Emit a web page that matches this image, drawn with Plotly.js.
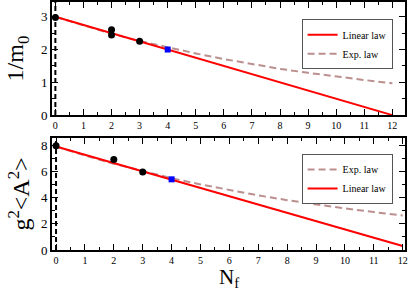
<!DOCTYPE html>
<html><head><meta charset="utf-8">
<script src="https://cdn.plot.ly/plotly-3.0.1.min.js"></script>
<style>html,body{margin:0;padding:0;background:#fff}#c{width:409px;height:292px}</style>
</head><body><div id="c"></div>
<script>
// Top panel: 1/m0 vs Nf
const nfTopPts = [0, 2, 2, 3];
const invM0Pts = [2.98, 2.6, 2.44, 2.25];
const nfTopSq = [4];
const invM0Sq = [2.0];
const linTopX = [0, 12];
const linTopY = [3.0, 0.0];
const expX = [0,1,2,3,4,5,6,7,8,9,10,11,12];
const expTopY = [3.00,2.73,2.48,2.26,2.06,1.88,1.71,1.55,1.41,1.29,1.17,1.07,0.97];
// Bottom panel: g^2<A^2> vs Nf
const nfBotPts = [0, 2, 3];
const a2Pts = [7.95, 6.9, 5.95];
const nfBotSq = [4];
const a2Sq = [5.39];
const linBotX = [0, 12];
const linBotY = [7.9, 0.3];
const expBotY = [7.90,7.21,6.58,6.01,5.48,5.00,4.57,4.17,3.80,3.47,3.17,2.89,2.64];
const xTicks = [0,1,2,3,4,5,6,7,8,9,10,11,12];

const serif = 'Liberation Serif';
const red = '#ff0000', rb = '#bc8f8f';
const traces = [
  {x: expX, y: expTopY, mode:'lines', name:'Exp. law', line:{color:rb, width:2, dash:'7px,4px'}, xaxis:'x', yaxis:'y', legend:'legend', legendrank:2},
  {x: linTopX, y: linTopY, mode:'lines', name:'Linear law', line:{color:red, width:2}, xaxis:'x', yaxis:'y', legend:'legend', legendrank:1},
  {x: nfTopPts, y: invM0Pts, mode:'markers', marker:{color:'#000', size:7}, showlegend:false, xaxis:'x', yaxis:'y'},
  {x: nfTopSq, y: invM0Sq, mode:'markers', marker:{color:'#0000ff', size:6, symbol:'square'}, showlegend:false, xaxis:'x', yaxis:'y'},
  {x: expX, y: expBotY, mode:'lines', name:'Exp. law', line:{color:rb, width:2, dash:'7px,4px'}, xaxis:'x2', yaxis:'y2', legend:'legend2', legendrank:1},
  {x: linBotX, y: linBotY, mode:'lines', name:'Linear law', line:{color:red, width:2}, xaxis:'x2', yaxis:'y2', legend:'legend2', legendrank:2},
  {x: nfBotPts, y: a2Pts, mode:'markers', marker:{color:'#000', size:7}, showlegend:false, xaxis:'x2', yaxis:'y2'},
  {x: nfBotSq, y: a2Sq, mode:'markers', marker:{color:'#0000ff', size:6, symbol:'square'}, showlegend:false, xaxis:'x2', yaxis:'y2'}
];
const ax = {
  showline:true, linewidth:2, linecolor:'#000', mirror:'ticks', ticks:'inside', ticklen:6, tickwidth:1, tickcolor:'#000',
  showgrid:false, zeroline:false
};
const layout = {
  width:409, height:292, margin:{l:52, r:4, t:2, b:42},
  paper_bgcolor:'#fff', plot_bgcolor:'#fff',
  font:{family:serif, color:'#000'},
  showlegend:true,
  xaxis: Object.assign({}, ax, {domain:[0,1], anchor:'y', range:[-0.12,12.45], tickvals:xTicks, ticktext:xTicks.map(String), tickfont:{size:10, family:serif}, ticklabelstandoff:0,
    minor:{ticks:'inside', dtick:0.5, ticklen:3, tickcolor:'#000'}}),
  yaxis: Object.assign({}, ax, {domain:[0.544,1], anchor:'x', range:[0,3.45], dtick:1, tickfont:{size:13, family:serif},
    minor:{ticks:'inside', dtick:0.5, ticklen:3, tickcolor:'#000'},
    title:{text:'1/m<sub>0</sub>', font:{size:24, family:serif}, standoff:10}}),
  xaxis2: Object.assign({}, ax, {domain:[0,1], anchor:'y2', range:[-0.14,12.08], tickvals:xTicks, ticktext:xTicks.map(String), tickfont:{size:10, family:serif}, ticklabelstandoff:0,
    minor:{ticks:'inside', dtick:0.5, ticklen:3, tickcolor:'#000'}}),
  yaxis2: Object.assign({}, ax, {domain:[0,0.452], anchor:'x2', range:[0,8.55], dtick:2, tickfont:{size:13, family:serif},
    minor:{ticks:'inside', dtick:1, ticklen:3, tickcolor:'#000'},
    title:{text:'g<sup>2</sup><A<sup>2</sup>>', font:{size:24, family:serif}, standoff:4}}),
  annotations:[
    {text:'N<sub>f</sub>', xref:'paper', yref:'paper', x:0.5, y:-0.054, xanchor:'center', yanchor:'top', showarrow:false, font:{size:21, family:serif}}
  ],
  legend:{x:0.707, y:0.93, xanchor:'left', yanchor:'top', bgcolor:'#fff', bordercolor:'#555', borderwidth:1,
    font:{size:10, family:serif}, tracegroupgap:0, itemwidth:30},
  legend2:{x:0.707, y:0.387, xanchor:'left', yanchor:'top', bgcolor:'#fff', bordercolor:'#555', borderwidth:1,
    font:{size:10, family:serif}, tracegroupgap:0, itemwidth:30},
  shapes:[
    {type:'line', xref:'x', yref:'y domain', x0:0, x1:0, y0:0, y1:1, line:{color:'#000', width:2, dash:'5px,3px'}},
    {type:'line', xref:'x2', yref:'y2 domain', x0:0, x1:0, y0:0, y1:1, line:{color:'#000', width:2, dash:'5px,3px'}}
  ]
};
Plotly.newPlot('c', traces, layout, {displayModeBar:false, staticPlot:true});
</script></body></html>
